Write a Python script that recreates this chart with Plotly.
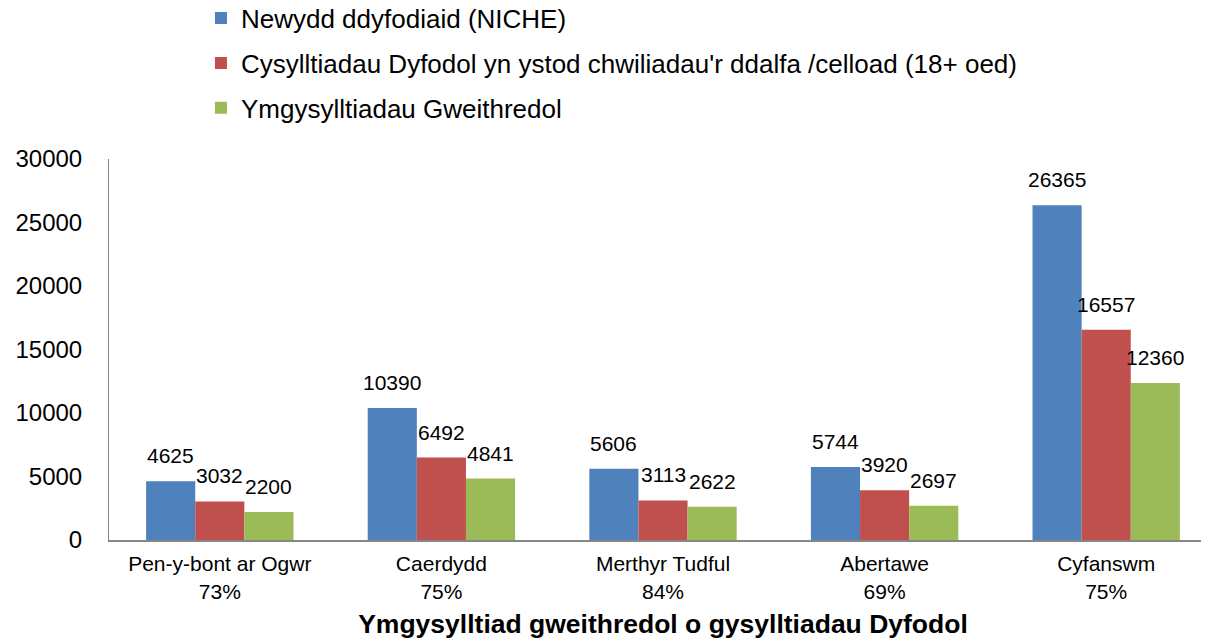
import plotly.graph_objects as go

categories = ["Pen-y-bont ar Ogwr<br>73%", "Caerdydd<br>75%", "Merthyr Tudful<br>84%",
              "Abertawe<br>69%", "Cyfanswm<br>75%"]
series_names = ["Newydd ddyfodiaid (NICHE)",
                "Cysylltiadau Dyfodol yn ystod chwiliadau'r ddalfa /celload (18+ oed)",
                "Ymgysylltiadau Gweithredol"]
newydd = [4625, 10390, 5606, 5744, 26365]
cysylltiadau = [3032, 6492, 3113, 3920, 16557]
ymgysylltiadau = [2200, 4841, 2622, 2697, 12360]
colors = ["#4F81BD", "#C0504D", "#9BBB59"]
y_ticks = [0, 5000, 10000, 15000, 20000, 25000, 30000]
y_ticktext = [str(v) for v in y_ticks]

FONT = "Liberation Sans, Arial, sans-serif"
BARGAP = 0.335

fig = go.Figure()
all_series = [newydd, cysylltiadau, ymgysylltiadau]
legend_ids = ["legend", "legend2", "legend3"]
legend_y = [1.370, 1.252, 1.134]
n = len(all_series)
bar_w = (1 - BARGAP) / n
for i, (name, vals) in enumerate(zip(series_names, all_series)):
    fig.add_trace(go.Bar(
        x=list(range(len(categories))), y=vals, name=name,
        marker=dict(color=colors[i], line=dict(width=0)),
        legend=legend_ids[i],
    ))
    off = (i - (n - 1) / 2) * bar_w
    for j, v in enumerate(vals):
        fig.add_annotation(x=j + off, y=v, xref="x", yref="y", text=str(v),
                           showarrow=False, yanchor="bottom", yshift=12,
                           font=dict(size=21, family=FONT, color="#000000"))

legend_style = dict(x=0.083, xanchor="left", yref="paper", yanchor="middle",
                    font=dict(size=26, family=FONT), bgcolor="rgba(0,0,0,0)")

fig.update_layout(
    width=1209, height=640,
    margin=dict(l=101, r=0, t=151, b=108, autoexpand=False),
    paper_bgcolor="white", plot_bgcolor="white",
    barmode="group", bargap=BARGAP, bargroupgap=0,
    font=dict(family=FONT, color="#000000"),
    showlegend=True,
    legend=dict(y=legend_y[0], **legend_style),
    legend2=dict(y=legend_y[1], **legend_style),
    legend3=dict(y=legend_y[2], **legend_style),
    xaxis=dict(
        tickmode="array", tickvals=list(range(len(categories))), ticktext=categories,
        range=[-0.5, 4.5], showline=True, linecolor="#868686", linewidth=2,
        ticks="", tickfont=dict(size=21, family=FONT), showgrid=False,
        ticklabelstandoff=4, automargin=False,
        title=dict(text="<b>Ymgysylltiad gweithredol o gysylltiadau Dyfodol</b>",
                   font=dict(size=26.5, family=FONT), standoff=13),
    ),
    yaxis=dict(
        range=[0, 30000], tickmode="array", tickvals=y_ticks, ticktext=y_ticktext,
        showline=True, linecolor="#868686", automargin=False,
        linewidth=1, ticks="", showgrid=False, zeroline=False,
        tickfont=dict(size=24, family=FONT), ticklabelstandoff=21,
    ),
)

fig.write_html("out.html")
